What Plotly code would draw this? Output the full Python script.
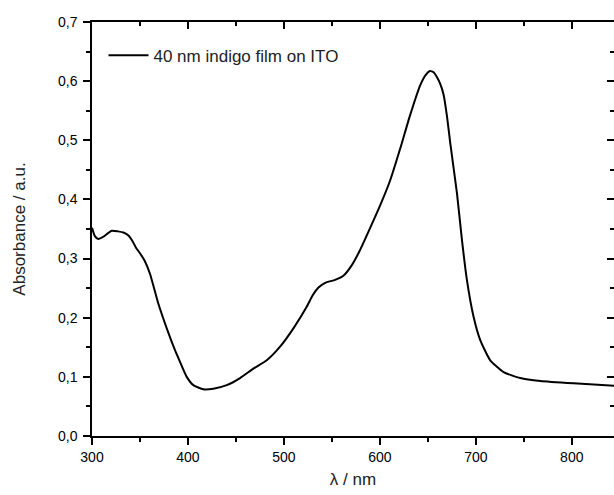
import plotly.graph_objects as go

wavelength = [300, 303, 306.6, 312, 320.5, 327, 332.7, 338, 342, 346, 350, 355, 360.5, 369.1, 377.9,
              386.5, 391.8, 398.7, 405.6, 416, 426.5, 440.4, 454.3, 468.2, 482.1, 496, 509.9,
              523.9, 530, 536, 543, 553.4, 562, 570.8, 579.5, 589.9, 600.3, 610.7, 621.2, 631.6,
              642, 648, 652, 656, 659.4, 663, 666.3, 670, 673.3, 680.3, 685.5, 690.7, 697.6, 704.6,
              715, 728.9, 746.3, 767.2, 801.9, 845]
absorbance = [0.352, 0.338, 0.333, 0.337, 0.347, 0.346, 0.344, 0.339, 0.330, 0.318, 0.309, 0.296, 0.274, 0.224, 0.182,
              0.145, 0.125, 0.100, 0.086, 0.079, 0.080, 0.086, 0.098, 0.114, 0.128, 0.151, 0.182,
              0.219, 0.238, 0.251, 0.259, 0.264, 0.271, 0.289, 0.315, 0.352, 0.390, 0.432, 0.486, 0.543,
              0.593, 0.611, 0.617, 0.615, 0.607, 0.595, 0.578, 0.540, 0.496, 0.411, 0.332, 0.264, 0.202, 0.162,
              0.128, 0.108, 0.098, 0.093, 0.089, 0.085]

series_name = "40 nm indigo film on ITO"
x_title = "λ / nm"
y_title = "Absorbance / a.u."

FONT = "Liberation Sans"
XR = [300, 844]
YR = [0, 0.7]
x_major = [300, 400, 500, 600, 700, 800]
x_minor = [350, 450, 550, 650, 750, 850]
y_major = [0, 0.1, 0.2, 0.3, 0.4, 0.5, 0.6, 0.7]
y_minor = [0.05, 0.15, 0.25, 0.35, 0.45, 0.55, 0.65]

fig = go.Figure()
fig.add_trace(go.Scatter(x=wavelength, y=absorbance, mode="lines", name=series_name,
                         line=dict(color="black", width=2, shape="spline", smoothing=0.5)))
fig.add_trace(go.Scatter(x=wavelength, y=absorbance, mode="lines", xaxis="x2", yaxis="y2",
                         line=dict(color="rgba(0,0,0,0)", width=0), showlegend=False,
                         hoverinfo="skip"))

fig.update_layout(
    width=614, height=495,
    margin=dict(l=92, r=0, t=22, b=59, autoexpand=False),
    paper_bgcolor="white", plot_bgcolor="white",
    separators=", ",
    font=dict(family=FONT, color="black", size=14),
    showlegend=True,
    legend=dict(x=0.022, y=0.962, xanchor="left", yanchor="top", bgcolor="rgba(0,0,0,0)",
                font=dict(family=FONT, size=17, color="#222"), itemwidth=40),
    xaxis=dict(range=XR, showline=True, linecolor="black", linewidth=1.5, automargin=False,
               ticks="outside", ticklen=7, tickwidth=1.5, tickcolor="black",
               tickvals=x_major, ticktext=[str(v) for v in x_major],
               minor=dict(tickvals=x_minor, ticks="outside", ticklen=4,
                          tickwidth=1.5, tickcolor="black"),
               showgrid=False, zeroline=False,
               tickfont=dict(size=14, family=FONT),
               title=dict(text=x_title, font=dict(size=17, family=FONT, color="#222"), standoff=10)),
    xaxis2=dict(range=XR, overlaying="x", side="top", anchor="y", showline=True, linecolor="black",
                linewidth=1.5, ticks="inside", ticklen=7, tickwidth=1.5, tickcolor="black",
                tickvals=x_major, showticklabels=False, automargin=False,
                minor=dict(tickvals=x_minor, ticks="inside", ticklen=4,
                           tickwidth=1.5, tickcolor="black"),
                showgrid=False, zeroline=False),
    yaxis=dict(range=YR, showline=True, linecolor="black", linewidth=1.5, automargin=False,
               ticks="outside", ticklen=7, tickwidth=1.5, tickcolor="black",
               tickvals=y_major, tickformat=".1f", ticklabelstandoff=3,
               minor=dict(tickvals=y_minor, ticks="outside",
                          ticklen=4, tickwidth=1.5, tickcolor="black"),
               showgrid=False, zeroline=False,
               tickfont=dict(size=14, family=FONT),
               title=dict(text=y_title, font=dict(size=17, family=FONT, color="#222"), standoff=28)),
    yaxis2=dict(range=YR, overlaying="y", side="right", anchor="x", showline=False, automargin=False,
                ticks="inside", ticklen=7, tickwidth=1.5, tickcolor="black",
                tickvals=y_major, showticklabels=False,
                minor=dict(tickvals=y_minor, ticks="inside",
                           ticklen=4, tickwidth=1.5, tickcolor="black"),
                showgrid=False, zeroline=False),
)

fig.write_html("out.html", config={"displayModeBar": False},
               post_script="document.body.style.margin='0';document.body.style.overflow='hidden';")
